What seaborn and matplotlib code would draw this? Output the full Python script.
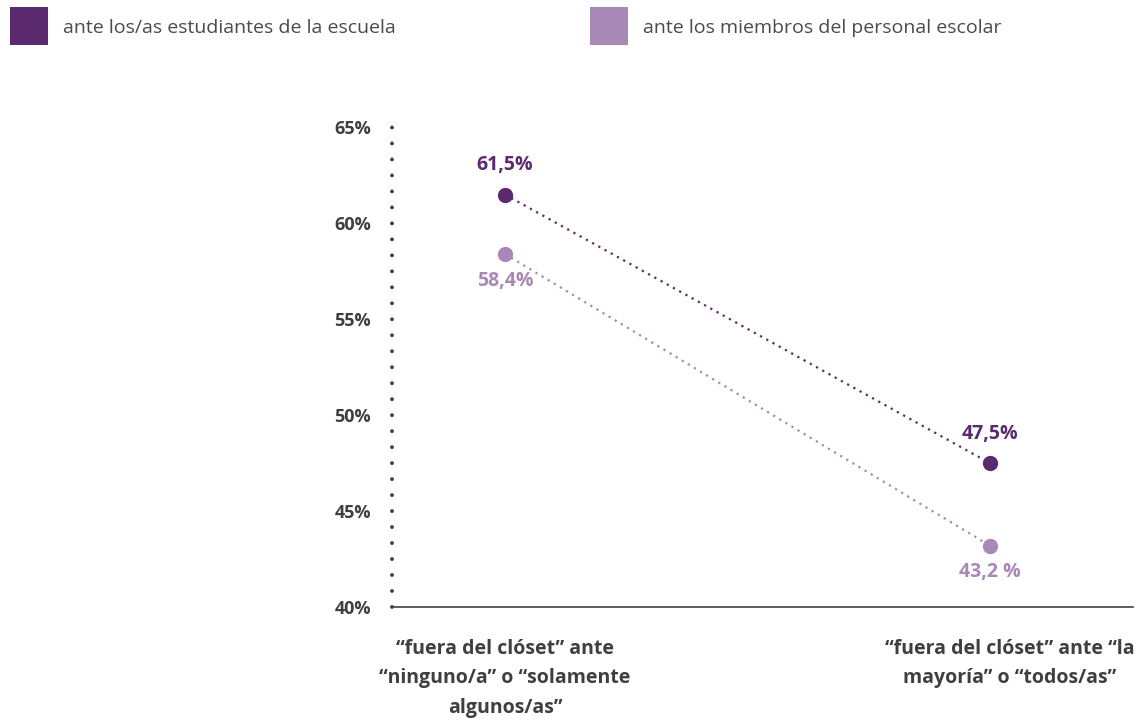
import matplotlib

matplotlib.use("Agg")
import matplotlib.pyplot as plt
import matplotlib.transforms as mtransforms
from matplotlib.patches import Rectangle
import pandas as pd
import seaborn as sns

# data
categories = [
    "\u201cfuera del cl\u00f3set\u201d ante\n\u201cninguno/a\u201d o \u201csolamente\nalgunos/as\u201d",
    "\u201cfuera del cl\u00f3set\u201d ante \u201cla\nmayor\u00eda\u201d o \u201ctodos/as\u201d",
]
series_names = [
    "ante los/as estudiantes de la escuela",
    "ante los miembros del personal escolar",
]
estudiantes = [61.5, 47.5]
personal = [58.4, 43.2]
estudiantes_labels = ["61,5%", "47,5%"]
personal_labels = ["58,4%", "43,2 %"]
y_ticks = [40, 45, 50, 55, 60, 65]

DARK = "#5b2a6e"
LIGHT = "#a888b6"
GREY = "#3f3f3f"

df = pd.DataFrame(
    {
        "pos": [0, 1, 0, 1],
        "value": estudiantes + personal,
        "serie": [series_names[0]] * 2 + [series_names[1]] * 2,
    }
)

sns.set_style("white")
plt.rcParams["font.family"] = ["Open Sans", "DejaVu Sans"]

fig = plt.figure(figsize=(11.47, 7.27), dpi=100)
ax = fig.add_axes([0.3418, 0.165, 0.6460, 0.665])

palette = {series_names[0]: DARK, series_names[1]: LIGHT}
sns.lineplot(
    data=df, x="pos", y="value", hue="serie", palette=palette,
    linestyle=(0, (1, 2.2)), linewidth=1.6, marker="o", markersize=11,
    markeredgewidth=0, legend=False, ax=ax,
)

ax.set_xlim(-0.233, 1.295)
ax.set_ylim(40, 65.2)

# value labels
for i, (v, lab) in enumerate(zip(estudiantes, estudiantes_labels)):
    ax.annotate(lab, (i, v), xytext=(0, 14), textcoords="offset points",
                ha="center", va="bottom", fontsize=14, fontweight="bold", color=DARK)
for i, (v, lab) in enumerate(zip(personal, personal_labels)):
    ax.annotate(lab, (i, v), xytext=(0, -12), textcoords="offset points",
                ha="center", va="top", fontsize=14, fontweight="bold", color=LIGHT)

# axes styling
for side in ["top", "right", "left"]:
    ax.spines[side].set_visible(False)
ax.spines["bottom"].set_color(GREY)
ax.spines["bottom"].set_linewidth(1.2)
ax.axvline(ax.get_xlim()[0], color=GREY, lw=2.8, linestyle=(0, (0.01, 4.1)),
           dash_capstyle="round", clip_on=False)

ax.set_yticks(y_ticks)
ax.set_yticklabels([f"{t}%" for t in y_ticks], fontsize=13, fontweight="bold", color=GREY)
ax.tick_params(axis="y", length=0, pad=15)

ax.set_xticks([0, 1])
ax.set_xticklabels(categories, fontsize=14, fontweight="bold", color=GREY, linespacing=1.62)
ax.tick_params(axis="x", length=0, pad=23)
shift = mtransforms.ScaledTranslation(0.2, 0, fig.dpi_scale_trans)
xt = ax.get_xticklabels()
xt[1].set_transform(xt[1].get_transform() + shift)

ax.set_xlabel("")
ax.set_ylabel("")

# legend at the top
for x0, color, name in [(0.0087, DARK, series_names[0]), (0.5144, LIGHT, series_names[1])]:
    fig.patches.append(Rectangle((x0, 0.938), 0.0331, 0.052, transform=fig.transFigure,
                                 facecolor=color, edgecolor="none"))
    fig.text(x0 + 0.046, 0.962, name, fontsize=14, fontweight="normal", color="#4a4a4a", va="center")

fig.savefig("out.png", dpi=100)
